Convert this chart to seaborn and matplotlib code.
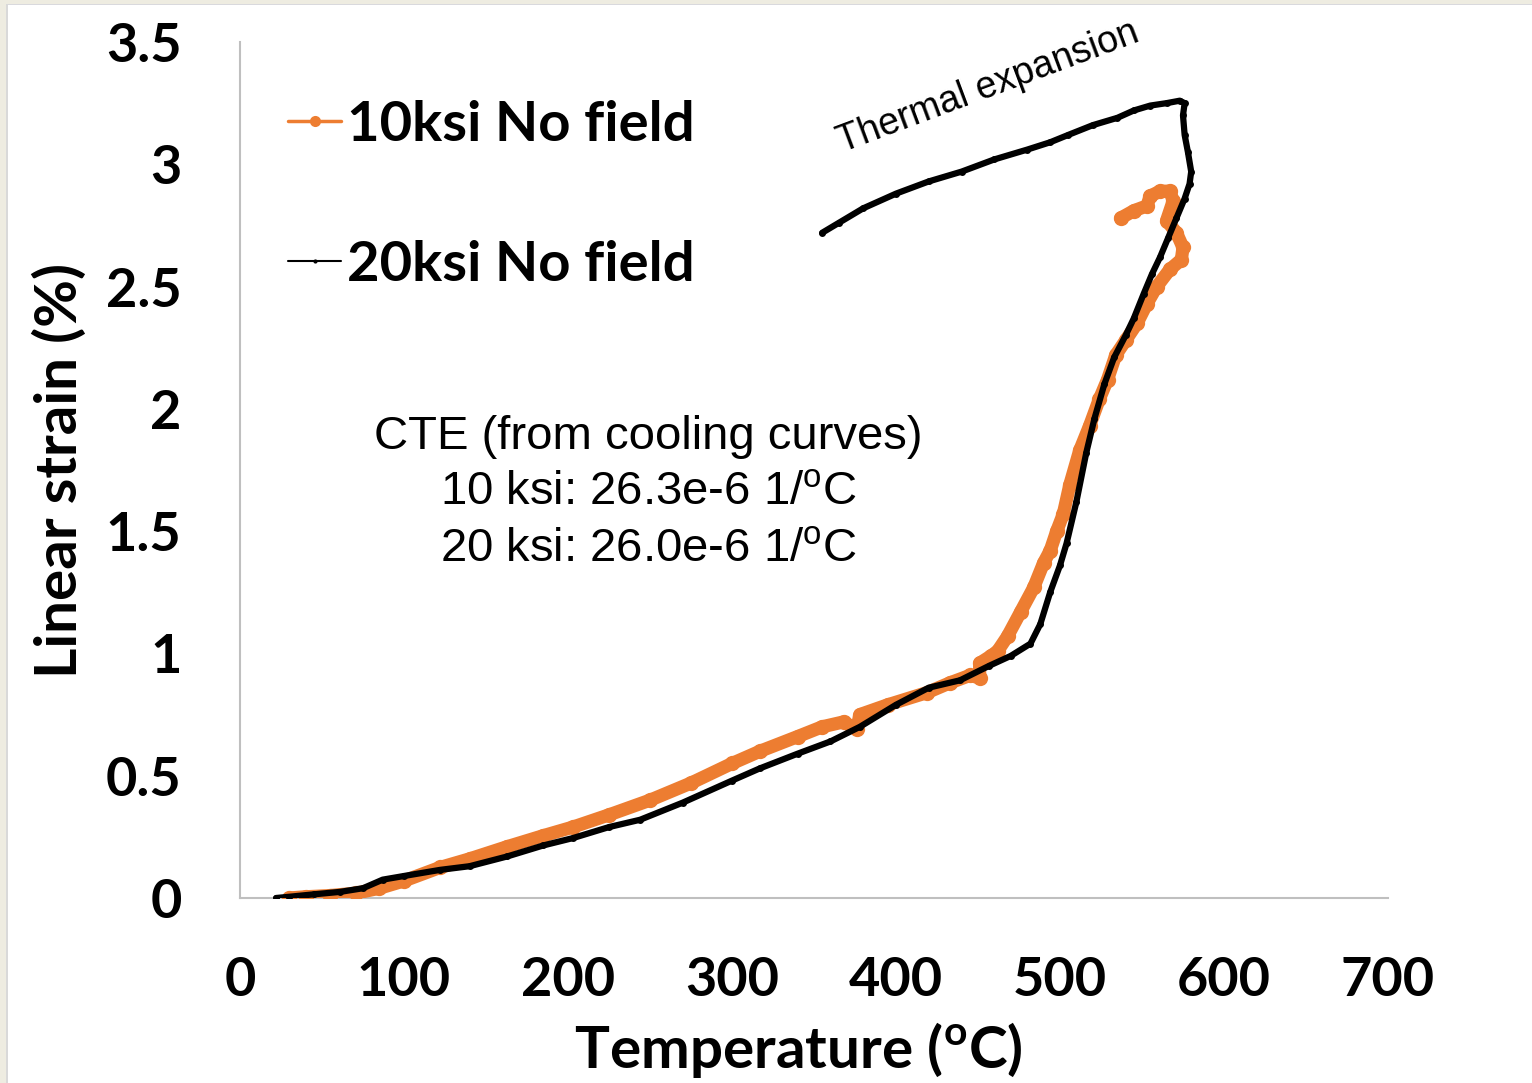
import numpy as np
import pandas as pd
import matplotlib
matplotlib.use("Agg")
import matplotlib.pyplot as plt
import seaborn as sns
from matplotlib.lines import Line2D
from matplotlib.patches import Rectangle

# ---------------- data ----------------
temp_10ksi = [30, 40, 55, 71, 85, 100, 122, 140, 163, 185, 203, 225, 250, 275, 300,
              317, 340, 355, 368, 376, 378, 395, 419, 433, 445, 451, 451, 458, 462,
              468, 476, 484, 490, 494, 498, 502, 506, 512, 518, 524, 529, 534, 540,
              547, 553, 559, 567, 574, 575, 571, 565, 569, 567, 561, 555, 553, 545, 537]
strain_10ksi = [0.0, 0.005, 0.01, 0.02, 0.04, 0.07, 0.125, 0.16, 0.21, 0.255, 0.29, 0.34,
                0.40, 0.47, 0.55, 0.60, 0.66, 0.70, 0.72, 0.69, 0.75, 0.79, 0.84, 0.88,
                0.91, 0.90, 0.96, 0.99, 1.01, 1.07, 1.17, 1.27, 1.37, 1.42, 1.50, 1.57,
                1.69, 1.83, 1.93, 2.04, 2.12, 2.22, 2.28, 2.35, 2.43, 2.50, 2.57, 2.61,
                2.66, 2.72, 2.77, 2.85, 2.89, 2.89, 2.87, 2.83, 2.81, 2.78]

temp_20ksi = [22, 30, 45, 61, 75, 87, 100, 122, 140, 163, 185, 203, 225, 244, 270, 300,
              317, 340, 360, 378, 400, 420, 439, 457, 470, 482, 488, 494, 500, 504, 510,
              516, 521, 527, 533, 540, 545, 551, 556, 561, 566, 571, 576, 579, 580, 578,
              576, 575, 576, 573, 565, 555, 545, 535, 520, 505, 494, 480, 460, 440, 420,
              400, 380, 365, 355]
strain_20ksi = [0.0, 0.005, 0.015, 0.025, 0.04, 0.075, 0.09, 0.115, 0.13, 0.17, 0.215,
                0.245, 0.29, 0.32, 0.39, 0.48, 0.53, 0.59, 0.64, 0.70, 0.79, 0.86, 0.89,
                0.95, 0.99, 1.04, 1.12, 1.25, 1.36, 1.45, 1.62, 1.82, 1.96, 2.10, 2.21,
                2.30, 2.37, 2.47, 2.55, 2.62, 2.70, 2.78, 2.86, 2.92, 2.97, 3.05, 3.12,
                3.20, 3.25, 3.26, 3.25, 3.24, 3.22, 3.19, 3.16, 3.12, 3.09, 3.06, 3.02,
                2.97, 2.93, 2.88, 2.82, 2.76, 2.72]

x_ticks = [0, 100, 200, 300, 400, 500, 600, 700]
y_ticks = [0, 0.5, 1, 1.5, 2, 2.5, 3, 3.5]
y_tick_labels = ["0", "0.5", "1", "1.5", "2", "2.5", "3", "3.5"]
series_labels = ["10ksi No field", "20ksi No field"]
cte_lines = ["CTE (from cooling curves)",
             r"10 ksi: 26.3e-6 1/$^{\mathrm{o}}$C",
             r"20 ksi: 26.0e-6 1/$^{\mathrm{o}}$C"]
annotation = "Thermal expansion"
x_label = r"Temperature ($^{\mathbf{o}}$C)"
y_label = "Linear strain (%)"

ORANGE = "#ED7D31"
AXIS_GRAY = "#BFBFBF"

# ---------------- style ----------------
sns.set_style("white")
plt.rcParams["font.family"] = ["Lato", "DejaVu Sans"]
plt.rcParams["text.color"] = "black"
plt.rcParams["axes.labelcolor"] = "black"
plt.rcParams["xtick.labelcolor"] = "black"
plt.rcParams["ytick.labelcolor"] = "black"
plt.rcParams["mathtext.fontset"] = "custom"
plt.rcParams["mathtext.rm"] = "Liberation Sans"
plt.rcParams["mathtext.bf"] = "Lato:bold"

W, H = 1532, 1083
fig = plt.figure(figsize=(W / 100, H / 100), dpi=100)
fig.patch.set_facecolor("white")

# slide frame strips (top and left)
fig.patches.append(Rectangle((0, 1 - 3.5 / H), 1, 3.5 / H, transform=fig.transFigure,
                             facecolor="#EEECE1", edgecolor="none", zorder=-5))
fig.patches.append(Rectangle((0, 1 - 5 / H), 1, 1.5 / H, transform=fig.transFigure,
                             facecolor="#D9D9DD", edgecolor="none", zorder=-5))
fig.patches.append(Rectangle((0, 0), 6 / W, 1, transform=fig.transFigure,
                             facecolor="#EEECE1", edgecolor="none", zorder=-4))
fig.patches.append(Rectangle((6 / W, 0), 2 / W, 1 - 3.5 / H, transform=fig.transFigure,
                             facecolor="#D9D9D9", edgecolor="none", zorder=-4))

ax = fig.add_axes([240 / W, 1 - 898 / H, 1148 / W, 856 / H])
ax.set_facecolor("none")

df10 = pd.DataFrame({"T": temp_10ksi, "S": strain_10ksi})
df20 = pd.DataFrame({"T": temp_20ksi, "S": strain_20ksi})

sns.lineplot(data=df10, x="T", y="S", sort=False, estimator=None, ax=ax,
             color=ORANGE, marker="o", legend=False, zorder=3)
line10 = ax.lines[-1]
line10.set_linewidth(9.5)
line10.set_markersize(11)
line10.set_markeredgewidth(0)
line10.set_solid_joinstyle("round")
line10.set_solid_capstyle("round")

sns.lineplot(data=df20, x="T", y="S", sort=False, estimator=None, ax=ax,
             color="black", marker="o", legend=False, zorder=4)
line20 = ax.lines[-1]
line20.set_linewidth(4.5)
line20.set_markersize(5)
line20.set_markeredgewidth(0)
line20.set_solid_joinstyle("round")
line20.set_solid_capstyle("round")

ax.set_xlim(0, 700)
ax.set_ylim(0, 3.5)
ax.set_xticks(x_ticks)
ax.set_xticklabels([str(v) for v in x_ticks], fontweight="bold")
ax.set_yticks(y_ticks)
ax.set_yticklabels(y_tick_labels, fontweight="bold")
ax.tick_params(axis="both", which="major", length=14, width=1.5, color=AXIS_GRAY,
               pad=28, labelsize=39, direction="out", labelcolor="black")
for s in ["top", "right"]:
    ax.spines[s].set_visible(False)
for s in ["left", "bottom"]:
    ax.spines[s].set_color(AXIS_GRAY)
    ax.spines[s].set_linewidth(1.5)
ax.set_xlabel("")
ax.set_ylabel("")
ax.grid(False)

fig.text(798 / W, 1 - 1050 / H, x_label, ha="center", va="center",
         fontsize=42, fontweight="bold", color="black")
fig.text(60 / W, 1 - 470 / H, y_label, ha="center", va="center", rotation=90,
         fontsize=42, fontweight="bold", color="black")

# legend
handles = [Line2D([], [], color=ORANGE, lw=2.5, marker="o", markersize=8, markeredgewidth=0),
           Line2D([], [], color="black", lw=1.5, marker="o", markersize=3, markeredgewidth=0)]
leg = ax.legend(handles, series_labels, loc="upper left",
                bbox_to_anchor=(288 / W, 1 - 100 / H), bbox_transform=fig.transFigure,
                frameon=False, prop={"family": "Lato", "weight": "bold", "size": 40.5},
                handlelength=0.95, handletextpad=0.1, labelspacing=1.6,
                borderpad=0, borderaxespad=0)
for t in leg.get_texts():
    t.set_color("black")

# annotations
ax.text(367, 3.05, annotation, rotation=20.5, rotation_mode="anchor",
        ha="left", va="baseline", fontsize=27, family="Liberation Sans", color="black")
cte_x = 249
for line, yb in zip(cte_lines, [1.836, 1.607, 1.374]):
    ax.text(cte_x, yb, line, ha="center", va="baseline", fontsize=34,
            family="Liberation Sans", color="black")

fig.savefig("out.png", dpi=100)
